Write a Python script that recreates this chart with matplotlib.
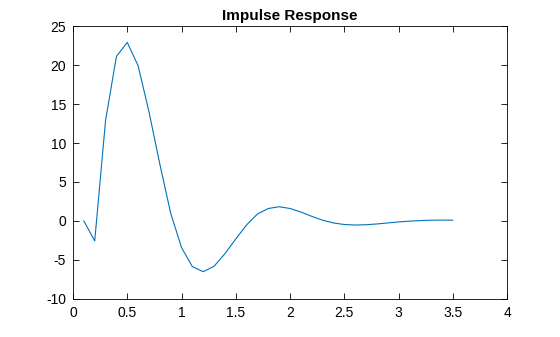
import numpy as np
import matplotlib.pyplot as plt

plt.rcParams['font.family'] = ['Liberation Sans', 'DejaVu Sans']
plt.rcParams['axes.unicode_minus'] = False

# sampled impulse response, t = 0.1 ... 3.5
t = [0.1, 0.2, 0.3, 0.4, 0.5, 0.6, 0.7, 0.8, 0.9, 1.0,
     1.1, 1.2, 1.3, 1.4, 1.5, 1.6, 1.7, 1.8, 1.9, 2.0,
     2.1, 2.2, 2.3, 2.4, 2.5, 2.6, 2.7, 2.8, 2.9, 3.0,
     3.1, 3.2, 3.3, 3.4, 3.5]
h = [0.0, -2.55, 12.9, 21.1, 22.9, 19.9, 14.0, 7.3, 1.0, -3.4,
     -5.85, -6.5, -5.8, -4.2, -2.3, -0.5, 0.9, 1.6, 1.83, 1.6,
     1.15, 0.6, 0.1, -0.25, -0.45, -0.52, -0.48, -0.38, -0.25, -0.12,
     -0.02, 0.05, 0.1, 0.12, 0.1]

fig = plt.figure(figsize=(5.6, 3.37), dpi=100)
ax = fig.add_axes([0.1304, 0.1128, 0.775, 0.81])
ax.plot(t, h, color='#0072BD', linewidth=0.8)

ax.set_xlim(0, 4)
ax.set_ylim(-10, 25)
ax.set_xticks(np.arange(0, 4.01, 0.5))
ax.set_xticklabels(['0', '0.5', '1', '1.5', '2', '2.5', '3', '3.5', '4'])
ax.set_yticks(np.arange(-10, 26, 5))
ax.tick_params(direction='in', top=True, right=True, length=4,
               width=0.6, labelsize=10, pad=5)
for s in ax.spines.values():
    s.set_linewidth(0.6)
ax.set_title('Impulse Response', fontsize=11, fontweight='bold', pad=4)

fig.savefig('out.png', dpi=100)
